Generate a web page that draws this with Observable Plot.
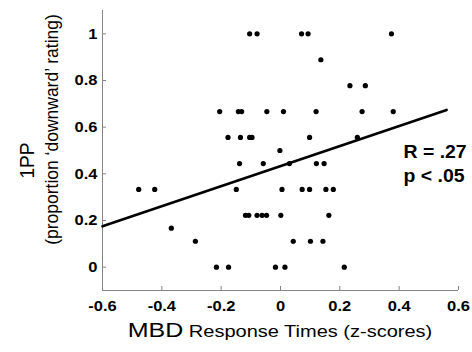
<!DOCTYPE html>
<html><head><meta charset="utf-8">
<script src="https://cdn.jsdelivr.net/npm/d3@7"></script>
<script src="https://cdn.jsdelivr.net/npm/@observablehq/plot@0.6"></script>
<style>body{margin:0;background:#fff}</style>
</head><body><div id="chart"></div>
<script>
// MBD response times (z-scores) and 1PP proportion of 'downward' ratings
const xValues = [
  -0.104, -0.079, 0.071, 0.093, 0.374,
  0.136,
  0.234, 0.286,
  -0.205, -0.142, -0.131, -0.046, 0.010, 0.120, 0.275, 0.380,
  -0.177, -0.135, -0.104, -0.096, 0.098, 0.259,
  -0.002,
  -0.138, -0.058, 0.030, 0.121, 0.147,
  -0.478, -0.424, -0.149, 0.005, 0.073, 0.098, 0.153, 0.178,
  -0.118, -0.107, -0.079, -0.062, -0.047, 0.001, 0.163,
  -0.368,
  -0.287, 0.043, 0.101, 0.143,
  -0.216, -0.175, -0.017, 0.015, 0.215
];
const yValues = [
  1, 1, 1, 1, 1,
  0.889,
  0.778, 0.778,
  0.667, 0.667, 0.667, 0.667, 0.667, 0.667, 0.667, 0.667,
  0.556, 0.556, 0.556, 0.556, 0.556, 0.556,
  0.5,
  0.444, 0.444, 0.444, 0.444, 0.444,
  0.333, 0.333, 0.333, 0.333, 0.333, 0.333, 0.333, 0.333,
  0.222, 0.222, 0.222, 0.222, 0.222, 0.222, 0.222,
  0.167,
  0.111, 0.111, 0.111, 0.111,
  0, 0, 0, 0, 0
];
// regression line end points
const fitX = [-0.6, 0.56];
const fitY = [0.175, 0.674];
const xDomain = [-0.6, 0.6];
const yDomain = [-0.1, 1.1];
const xTicks = [-0.6, -0.4, -0.2, 0, 0.2, 0.4, 0.6];
const xTickLabels = ["-0.6", "-0.4", "-0.2", "0", "0.2", "0.4", "0.6"];
const yTicks = [0, 0.2, 0.4, 0.6, 0.8, 1];
const yTickLabels = ["0", "0.2", "0.4", "0.6", "0.8", "1"];
const statsText = ["R = .27", "p < .05"];
const yTitle = "1PP";
const ySubtitle = "(proportion \u2018downward\u2019 rating)";
const xTitleMain = "MBD";
const xTitleRest = "Response Times (z-scores)";

const points = xValues.map((x, i) => ({x, y: yValues[i]}));
const fit = fitX.map((x, i) => ({x, y: fitY[i]}));
const axisGray = "#858585";

const W = 472, H = 352, mL = 102, mR = 14, mT = 10, mB = 62;
const frameW = W - mL - mR, frameH = H - mT - mB;
const tickLen = 4;

const chart = Plot.plot({
  width: W,
  height: H,
  marginLeft: mL,
  marginRight: mR,
  marginTop: mT,
  marginBottom: mB,
  style: {fontFamily: "'Liberation Sans', Arial, sans-serif", background: "#fff", color: "black"},
  x: {domain: xDomain, axis: null},
  y: {domain: yDomain, axis: null},
  marks: [
    Plot.ruleX([xDomain[0]], {stroke: axisGray, strokeWidth: 1}),
    Plot.ruleY([yDomain[0]], {stroke: axisGray, strokeWidth: 1}),
    Plot.tickX(xTicks, {x: d => d, insetTop: frameH - tickLen, stroke: axisGray, strokeWidth: 1}),
    Plot.tickY(yTicks, {y: d => d, insetRight: frameW - tickLen, stroke: axisGray, strokeWidth: 1}),
    Plot.text(xTicks, {x: d => d, text: (d, i) => xTickLabels[i], frameAnchor: "bottom", dy: 10, lineAnchor: "top",
      textAnchor: "middle", fontWeight: "bold", fontSize: 15, fill: "black", className: "ticklabel"}),
    Plot.text(yTicks, {y: d => d, text: (d, i) => yTickLabels[i], frameAnchor: "left", dx: -5,
      textAnchor: "end", fontWeight: "bold", fontSize: 15, fill: "black", className: "ticklabel"}),
    Plot.line(fit, {x: "x", y: "y", stroke: "black", strokeWidth: 2.6}),
    Plot.dot(points, {x: "x", y: "y", r: 2.6, fill: "black"}),
    Plot.text([statsText.join("\n")], {frameAnchor: "top-left", dx: 301, dy: 131, lineAnchor: "top",
      textAnchor: "start", fontWeight: "bold", fontSize: 18, lineHeight: 1.33, fill: "black", className: "stats"}),
    Plot.text([yTitle], {frameAnchor: "left", dx: -75, dy: 10, rotate: -90, textAnchor: "middle", fontSize: 19, fill: "black", className: "ytitle"}),
    Plot.text([ySubtitle], {frameAnchor: "left", dx: -51, dy: -21, rotate: -90, textAnchor: "middle", fontSize: 17.5, fill: "black", className: "ytitle"})
  ]
});

document.getElementById("chart").appendChild(chart);
const svg = d3.select(chart);

// x-axis title
const xt = svg.append("text")
  .attr("text-anchor", "middle")
  .attr("fill", "black")
  .style("font-family", "'Liberation Sans', Arial, sans-serif");
xt.append("tspan").attr("font-size", 20).text(xTitleMain);
xt.append("tspan").attr("font-size", 16).text(" " + xTitleRest);
xt.attr("transform", "translate(280,337) scale(1.25,1)");

// horizontal stretch of the original picture's lettering
function stretchH(el, s) {
  const t = el.getAttribute("transform") || "";
  const xa = el.getAttribute("x");
  let tr = t;
  if (xa !== null && !isNaN(+xa)) { tr += ` translate(${+xa},0)`; el.removeAttribute("x"); }
  el.setAttribute("transform", `${tr} scale(${s},1)`);
}
svg.selectAll('.ticklabel text').each(function() { stretchH(this, 1.1); });
svg.selectAll('.stats text').each(function() { stretchH(this, 1.08); });
svg.selectAll('.ytitle text').each(function() {
  const t = this.getAttribute("transform") || "";
  this.setAttribute("transform", `${t} scale(1,1.1)`);
});
</script>
</body></html>
